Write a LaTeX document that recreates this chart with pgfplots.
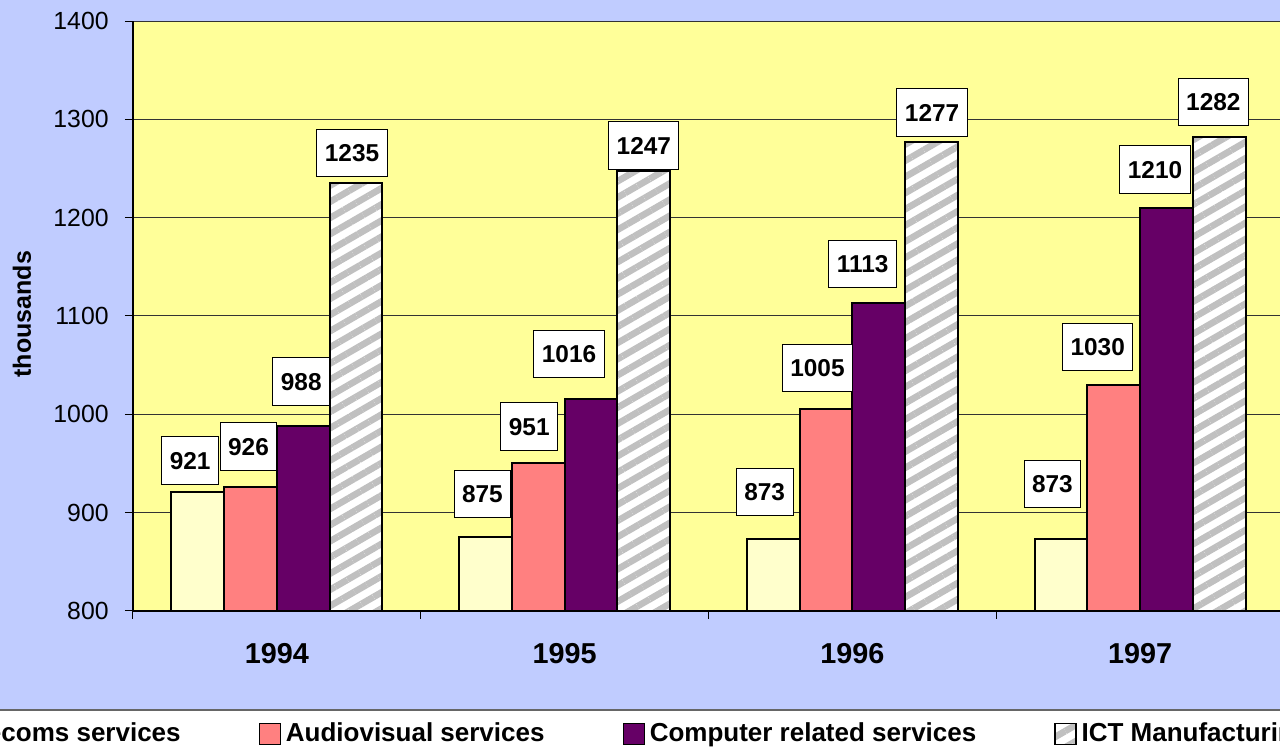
\documentclass[border=0pt]{standalone}
\usepackage{fontspec}
\setmainfont{Liberation Sans}
\usepackage{pgfplots}
\pgfplotsset{compat=1.18}
\usepackage{pgfplotstable}
\usetikzlibrary{patterns.meta}

\definecolor{bgblue}{RGB}{192,204,255}
\definecolor{plotyellow}{RGB}{255,255,153}
\definecolor{teleco}{RGB}{255,255,204}
\definecolor{audio}{RGB}{255,128,128}
\definecolor{comp}{RGB}{102,0,102}
\definecolor{hatchc}{RGB}{192,192,192}

% x  value  label-dx(pt)  label-dy(pt)
\pgfplotstableread{
x y dx dy
0 921 -3.75 15.75
1 875 -1.5 21.5
2 873 -4.25 23.5
3 873 -4.25 27.75
}\tele
\pgfplotstableread{
x y dx dy
0 926 -1 20.25
1 951 -4.5 18
2 1005 -4.25 20.75
3 1030 -8 19
}\audiotab
\pgfplotstableread{
x y dx dy
0 988 -1 22.25
1 1016 -11 22.25
2 1113 -8 19.75
3 1210 -5.75 19.25
}\comptab
\pgfplotstableread{
x y dx dy
0 1235 -2 15
1 1247 0 13
2 1277 0.25 14.75
3 1282 -3 17.5
}\icttab

\begin{document}
\begin{tikzpicture}
\useasboundingbox (0,0) rectangle (640pt,374pt);
\clip (0,0) rectangle (640pt,374pt);
\fill[bgblue] (0,0) rectangle (640pt,374pt);
\fill[white] (-5pt,-5pt) rectangle (645pt,19pt);
\draw[black!60, line width=0.75pt] (-5pt,19pt) -- (645pt,19pt);
\begin{axis}[
  at={(66.5pt,68.5pt)}, anchor=south west,
  scale only axis, width=575.5pt, height=295pt,
  ybar=0pt, bar width=26.4pt,
  xmin=-0.5, xmax=3.5, ymin=800, ymax=1400,
  ytick={800,900,...,1400},
  xtick={-0.5,0.5,1.5,2.5,3.5}, xticklabels={},
  extra x ticks={0,1,2,3},
  extra x tick labels={1994,1995,1996,1997},
  extra x tick style={major tick length=0pt, grid=none},
  axis background/.style={fill=plotyellow},
  ymajorgrids, grid style={black!80, line width=0.5pt},
  axis x line*=bottom, axis y line*=left,
  axis line style={black, line width=0.75pt},
  tick align=outside, major tick length=4pt,
  tick style={black, line width=0.5pt},
  /pgf/number format/assume math mode=true,
  /pgf/number format/1000 sep={},
  yticklabel style={font=\fontsize{12.4}{14}\selectfont, inner sep=0pt, anchor=east, xshift=-8pt},
  xticklabel style={font=\bfseries\fontsize{14.4}{16}\selectfont, inner sep=0pt, anchor=north, yshift=-16pt},
  ylabel={thousands},
  ylabel style={font=\bfseries\fontsize{12.5}{14}\selectfont, at={(axis description cs:-0.0964,0.503)}, anchor=center},
  legend columns=4,
  legend style={at={(axis description cs:-0.1818,-0.2085)}, anchor=west, draw=none, fill=none,
    inner sep=0pt, nodes={inner sep=0pt},
    font=\bfseries\fontsize{13}{15}\selectfont,
    /tikz/every odd column/.append style={column sep=2.5pt},
    /tikz/every even column/.append style={column sep=39pt}},
  legend image code/.code={\draw[#1, line width=0.6pt] (0pt,-5.25pt) rectangle (10.5pt,5.25pt);},
  nodes near coords,
  visualization depends on={\thisrow{dx} \as \labdx},
  visualization depends on={\thisrow{dy} \as \labdy},
  every node near coord/.append style={anchor=center, xshift=\labdx pt, yshift=\labdy pt,
    draw=black, line width=0.5pt, fill=white,
    font=\bfseries\fontsize{12.2}{14}\selectfont,
    inner xsep=4pt, inner ysep=7.5pt, text height=8.7pt, text depth=0pt},
]
\addplot[draw=black, line width=1pt, fill=teleco] table[x=x,y=y] {\tele};
\addlegendentry{Telecoms services}
\addplot[draw=black, line width=1pt, fill=audio] table[x=x,y=y] {\audiotab};
\addlegendentry{Audiovisual services}
\addplot[draw=black, line width=1pt, fill=comp] table[x=x,y=y] {\comptab};
\addlegendentry{Computer related services}
\addplot[draw=black, line width=1pt, fill=white,
  postaction={pattern={Lines[angle=30,distance=7pt,line width=3.3pt]}, pattern color=hatchc}]
  table[x=x,y=y] {\icttab};
\addlegendentry{ICT Manufacturing}
\end{axis}
\end{tikzpicture}
\end{document}
